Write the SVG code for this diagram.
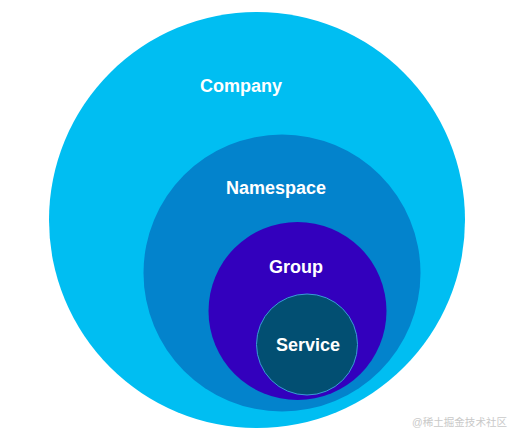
<svg xmlns="http://www.w3.org/2000/svg" width="522" height="441" viewBox="0 0 522 441">
<style>
.lbl{font-family:"Liberation Sans",Arial,sans-serif;font-weight:bold;font-size:18px;fill:#ffffff;text-anchor:middle}
.wm{font-family:"Liberation Sans","Noto Sans CJK SC",sans-serif;font-size:10.5px;fill:#c9c9c9}
</style>
<rect width="522" height="441" fill="#ffffff"/>
<g id="company">
<circle cx="257" cy="220" r="208" fill="#00bef2"/>
<text class="lbl" x="241" y="92">Company</text>
</g>
<g id="namespace">
<circle cx="282" cy="273" r="138.5" fill="#0383cc"/>
<text class="lbl" x="276" y="194">Namespace</text>
</g>
<g id="group">
<circle cx="297.5" cy="311" r="89" fill="#3300bd"/>
<text class="lbl" x="296" y="273" fill="#f4eeff">Group</text>
</g>
<g id="service">
<circle cx="307" cy="344.5" r="50.5" fill="#024f72" stroke="#3a9ad8" stroke-width="1"/>
<text class="lbl" x="308" y="351">Service</text>
</g>
<g id="connectors"></g>
<text class="wm" x="412" y="426" textLength="95" lengthAdjust="spacingAndGlyphs">@稀土掘金技术社区</text>
</svg>
